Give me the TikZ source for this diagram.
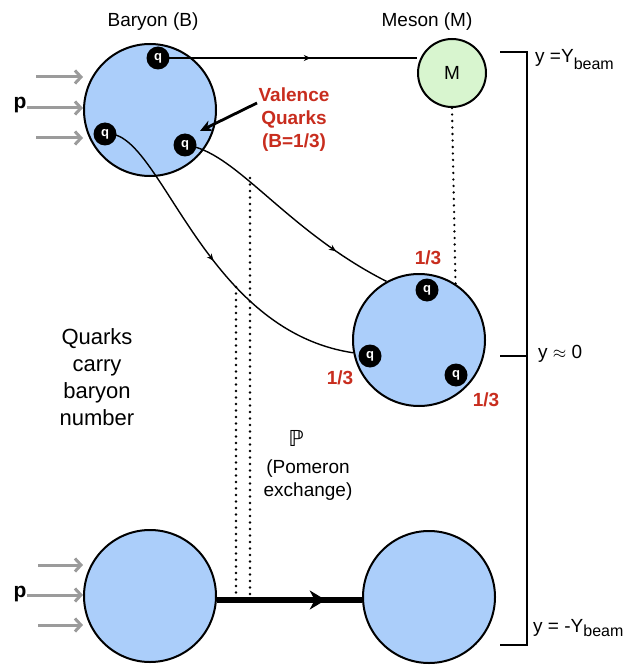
\documentclass[tikz,border=0pt]{standalone}
\usepackage{amssymb}
\usepackage{fontspec}
\setmainfont{Liberation Sans}
\newfontfamily\djv{DejaVu Sans}
\usetikzlibrary{arrows.meta,decorations.markings}
\definecolor{hblue}{RGB}{171,206,250}
\definecolor{mgreen}{RGB}{216,245,207}
\definecolor{lred}{RGB}{200,45,30}
\definecolor{agray}{RGB}{155,155,155}
\pgfdeclarelayer{fg}
\pgfsetlayers{main,fg}
\begin{document}
\begin{tikzpicture}[x=1pt,y=-1pt,
  hadron/.style={circle,draw=black,line width=2pt,fill=hblue,minimum size=132pt,inner sep=0pt},
  meson/.style={circle,draw=black,line width=2pt,fill=mgreen,minimum size=68pt,inner sep=0pt,font=\fontsize{19}{23}\selectfont},
  quark/.style={circle,fill=black,minimum size=23pt,inner sep=0pt,text=white,font=\fontsize{13}{13}\selectfont\bfseries},
  lbl/.style={font=\fontsize{19}{23}\selectfont,inner sep=0pt},
  redlbl/.style={font=\fontsize{19}{23}\selectfont\bfseries,text=lred,inner sep=0pt,align=center},
  grayarr/.style={draw=agray,line width=3pt,-{Straight Barb[length=6pt,width=13pt,line width=3pt]}},
  qline/.style={draw=black,line width=1.4pt},
  midarrow/.style={decoration={markings,mark=at position #1 with {\arrow{Stealth[length=7pt,width=6pt]}}},postaction={decorate}},
  dotline/.style={draw=black,line width=2.6pt,line cap=round,dash pattern=on 0pt off 6.5pt},
  brk/.style={draw=black,line width=1.8pt}
]
\useasboundingbox (0,0) rectangle (635,671);

% hadrons
\node[hadron] (B1) at (150,110) {};
\node[hadron] (C2) at (419,340) {};
\node[hadron] (B3) at (150,596) {};
\node[hadron] (C3) at (429,597) {};

\begin{pgfonlayer}{fg}
\node[meson] (M) at (452,73) {M};
\node[quark] (qa) at (158,58) {q};
\node[quark] (qb) at (105,134) {q};
\node[quark] (qc) at (185,145) {q};
\node[quark] (qd) at (427,290) {q};
\node[quark] (qe) at (370,356) {q};
\node[quark] (qf) at (456,375) {q};
\end{pgfonlayer}

% titles
\node[lbl] (tB) at (153,22) {Baryon (B)};
\node[lbl] (tM) at (427,22) {Meson (M)};

% quark lines
\draw[qline,midarrow=0.59] (qa.center) -- (qa.center -| M.west);
\draw[qline,midarrow=0.76] (qc.center) .. controls (235,150) and (285,230) .. (C2.119);
\draw[qline,midarrow=0.5] (qb.center) .. controls (160,125) and (200,330) .. (C2.191);

% valence label
\node[redlbl] (val) at (294,120) {Valence\\Quarks\\(B=1/3)};
\coordinate (vs) at (257,103);
\draw[line width=2.8pt,-{Stealth[length=12pt,width=11pt]}] (vs) -- (200,131);

% 1/3 labels
\node[redlbl] (f1) at (428,258) {1/3};
\node[redlbl] (f2) at (340,378) {1/3};
\node[redlbl] (f3) at (486,400) {1/3};

% p and gray arrows
\node[font=\fontsize{21}{21}\selectfont\bfseries,inner sep=0pt] (p1) at (20,105) {p};
\node[font=\fontsize{21}{21}\selectfont\bfseries,inner sep=0pt] (p2) at (20,594) {p};
\coordinate (ga1) at (36,77);
\coordinate (ga3) at (36,138);
\draw[grayarr] (ga1) -- (ga1 -| B1.west);
\draw[grayarr] (p1.east |- 0,108) -- (B1.west |- 0,108);
\draw[grayarr] (ga3) -- (ga3 -| B1.west);
\coordinate (gb1) at (38,565);
\coordinate (gb3) at (38,625);
\draw[grayarr] (gb1) -- (gb1 -| B3.west);
\draw[grayarr] (p2.east |- 0,595) -- (B3.west |- 0,595);
\draw[grayarr] (gb3) -- (gb3 -| B3.west);

% pomeron exchange
\draw[line width=5.5pt,decoration={markings,mark=at position 0.75 with {\arrow{Stealth[length=16pt,width=19pt,inset=5pt]}}},postaction={decorate}] (B3.east |- 0,600) -- (C3.west |- 0,600) coordinate (pe);
\coordinate (pl) at (236,287);
\coordinate (pr) at (250,178);
\draw[dotline] (pl) -- (pl |- 0,596);
\draw[dotline] (pr) -- (pr |- 0,596);
\draw[dotline] (M.south) -- (C2.57);
\node[font=\fontsize{22}{22}\selectfont\djv,inner sep=0pt] (PP) at (296,438) {ℙ};
\node[lbl,align=center] (pom) at (308,480) {(Pomeron\\exchange)};

% side text
\node[font=\fontsize{22}{27}\selectfont,align=center,inner sep=0pt] (qt) at (97,377) {Quarks\\carry\\baryon\\number};

% bracket
\coordinate (k1) at (500,52);
\coordinate (k2) at (527,52);
\coordinate (k3) at (527,645);
\coordinate (k4) at (500,645);
\coordinate (k5) at (500,356);
\draw[brk] (k1) -- (k2) -- (k3) -- (k4);
\draw[brk] (k5) -- (k5 -| k2);
\node[lbl,anchor=base west] (y1) at (535,63) {y =Y\raisebox{-7pt}{\fontsize{16}{16}\selectfont beam}};
\node[lbl,anchor=base west] (y2) at (538,358) {y $\approx$ 0};
\node[lbl,anchor=base west] (y3) at (533,632) {y = -Y\raisebox{-4pt}{\fontsize{16}{16}\selectfont beam}};
\end{tikzpicture}
\end{document}
